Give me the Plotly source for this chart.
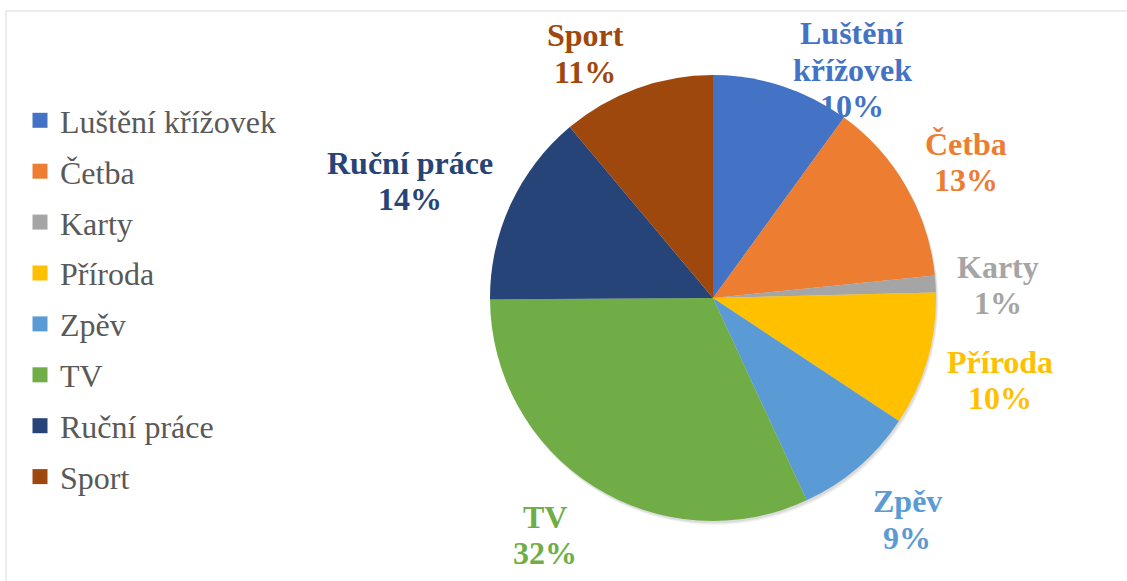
import math
import plotly.graph_objects as go

# ---- data ----
categories = ["Luštění křížovek", "Četba", "Karty", "Příroda", "Zpěv", "TV", "Ruční práce", "Sport"]
label_lines = [["Luštění", "křížovek"], ["Četba"], ["Karty"], ["Příroda"], ["Zpěv"], ["TV"], ["Ruční práce"], ["Sport"]]
values = [10.0, 13.4, 1.2, 9.7, 8.8, 31.8, 14.0, 11.1]
colors = ["#4472C4", "#ED7D31", "#A5A5A5", "#FFC000", "#5B9BD5", "#70AD47", "#264478", "#9E480E"]

# ---- layout / style ----
W, H = 1127, 581
CX, CY, R = 713, 298, 223          # pie centre and radius in pixels
LABEL_R = 1.28                      # label distance (in radii)
LINE_H = 36.5                       # label line spacing (px)
label_nudge = [(51, 43), (6, 6), (0, 5), (13, 3), (8, 5), (-15, -4), (-44, 3), (-30, 24)]
SERIF = "'Liberation Serif', 'Times New Roman', serif"

fig = go.Figure()

# soft shadow under the pie (decoration)
for off, alpha in [(4, 0.035), (3, 0.05), (2, 0.06)]:
    fig.add_trace(go.Pie(
        values=[1], labels=["shadow"], sort=False, textinfo="none", hoverinfo="skip",
        showlegend=False, marker=dict(colors=[f"rgba(0,0,0,{alpha})"], line=dict(width=0)),
        domain=dict(x=[(CX - R + off * 0.6) / W, (CX + R + off * 0.6) / W],
                    y=[1 - (CY + R + off) / H, 1 - (CY - R + off) / H]),
    ))

fig.add_trace(go.Pie(
    labels=categories, values=values, sort=False, direction="clockwise", rotation=0,
    marker=dict(colors=colors, line=dict(width=0)),
    textinfo="none", hoverinfo="label+percent", showlegend=False,
    domain=dict(x=[(CX - R) / W, (CX + R) / W], y=[1 - (CY + R) / H, 1 - (CY - R) / H]),
))

# legend entries (square markers)
for i, (name, col) in enumerate(zip(categories, colors)):
    fig.add_trace(go.Scatter(
        x=[None], y=[None], mode="markers", name=name, legendgroup=f"g{i}",
        marker=dict(symbol="square", size=15, color=col), showlegend=True,
    ))

# data labels computed from cumulative angles
total = sum(values)
cum = 0.0
annotations = []
for i, v in enumerate(values):
    mid = (cum + v / 2) / total * 2 * math.pi
    cum += v
    px = CX + LABEL_R * R * math.sin(mid) + label_nudge[i][0]
    py = CY - LABEL_R * R * math.cos(mid) + label_nudge[i][1]
    pct = round(v / total * 100)
    lines = label_lines[i] + [f"{pct}%"]
    n = len(lines)
    for j, line in enumerate(lines):
        ly = py + (j - (n - 1) / 2) * LINE_H
        annotations.append(dict(
            x=px / W, y=1 - ly / H, xref="paper", yref="paper",
            text=f"<b>{line}</b>", showarrow=False,
            xanchor="center", yanchor="middle", align="center",
            font=dict(family=SERIF, size=32, color=colors[i]),
        ))

fig.update_layout(
    width=W, height=H, margin=dict(l=0, r=0, t=0, b=0),
    paper_bgcolor="white", plot_bgcolor="white",
    font=dict(family=SERIF),
    xaxis=dict(visible=False), yaxis=dict(visible=False),
    showlegend=True,
    legend=dict(
        x=20 / W, y=1 - 93 / H, xanchor="left", yanchor="top",
        font=dict(family=SERIF, size=32, color="#595959"),
        tracegroupgap=6.3, bgcolor="rgba(0,0,0,0)",
    ),
    annotations=annotations,
    shapes=[dict(type="rect", xref="paper", yref="paper",
                 x0=6 / W, y0=-0.05, x1=1.05, y1=1 - 11 / H,
                 line=dict(color="#D9D9D9", width=1), fillcolor="rgba(0,0,0,0)", layer="below")],
)

fig.write_html("out.html", include_plotlyjs=True, full_html=True,
               config={"displayModeBar": False},
               post_script="document.body.style.margin='0';document.body.style.overflow='hidden';")
